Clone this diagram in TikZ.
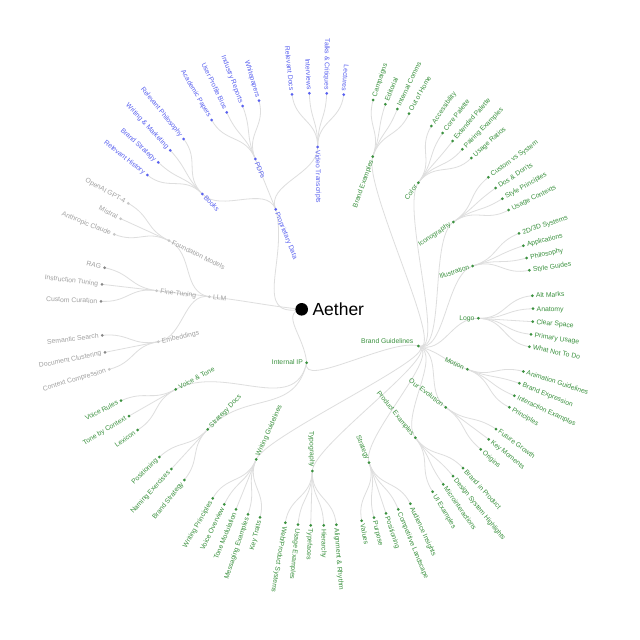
\documentclass[tikz,border=0pt]{standalone}
\usepackage{fontspec}
\setmainfont{Liberation Sans}
\usetikzlibrary{calc}
\pgfdeclarelayer{background}
\pgfsetlayers{background,main}
\definecolor{cblue}{RGB}{88,96,240}
\definecolor{cgreen}{RGB}{58,145,62}
\definecolor{cgray}{RGB}{160,160,160}
\definecolor{cgl}{RGB}{200,200,200}
\definecolor{cgd}{RGB}{135,135,135}
\definecolor{clink}{RGB}{222,222,222}
\newcommand{\mkn}[7]{%
  \node[dot,fill=#4] (#1) at (#2) {};
  \node[lab,text=#3,rotate=#6,anchor=#7] (#1-t) at (#1.center) {#5};}
\newcommand{\mylink}[2]{%
  \draw[lnkstyle] let \p1=($(#1)-(cen)$), \p2=($(#2)-(cen)$),
    \n1={veclen(\x1,\y1)}, \n2={veclen(\x2,\y2)}, \n3={(\n1+\n2)/2} in
    (#1.center) .. controls ($(cen)!\n3!(#1)$) and ($(cen)!\n3!(#2)$) .. (#2.center);}
\begin{document}
\begin{tikzpicture}[x=1pt,y=-1pt,
  dot/.style={circle,inner sep=0pt,minimum size=3pt,draw=none},
  lab/.style={font=\fontsize{6.8}{8}\selectfont,inner xsep=3.6pt,inner ysep=0pt,text height=4.35pt,text depth=0pt},
  lnkstyle/.style={draw=clink,line width=0.8pt}]
\useasboundingbox (0,0) rectangle (640,640);
\coordinate (cen) at (318,314);
% root
\node[circle,fill=black,inner sep=0pt,minimum size=12.6pt] (root) at (301.7,309.3) {};
\node[anchor=west,inner sep=0pt,font=\fontsize{17.5}{20}\selectfont] (root-t) at (312.3,309.3) {Aether};
% LLM subtree
\mkn{llm}{209.3,296.7}{cgray}{cgl}{LLM}{-6}{west}
\mkn{fm}{169,240.7}{cgray}{cgl}{Foundation Models}{-26}{west}
\mkn{ft}{156.7,290.7}{cgray}{cgl}{Fine-Tuning}{-7}{west}
\mkn{emb}{158.3,341.7}{cgray}{cgl}{Embeddings}{12}{west}
\mkn{gpt}{128.3,203.3}{cgray}{cgl}{OpenAI GPT-4}{-29}{east}
\mkn{mis}{120.7,218.7}{cgray}{cgl}{Mistral}{-27}{east}
\mkn{cla}{114.3,234.3}{cgray}{cgl}{Anthropic Claude}{-21.5}{east}
\mkn{rag}{104.7,267.7}{cgray}{cgd}{RAG}{-14}{east}
\mkn{itu}{102,284.3}{cgray}{cgd}{Instruction Tuning}{-7}{east}
\mkn{ccu}{101,301.3}{cgray}{cgd}{Custom Curation}{-2}{east}
\mkn{sse}{102.3,335.3}{cgray}{cgd}{Semantic Search}{7}{east}
\mkn{dcl}{105,352.3}{cgray}{cgd}{Document Clustering}{11.5}{east}
\mkn{cco}{109.3,369.3}{cgray}{cgl}{Context Compression}{16.5}{east}
% Proprietary Data subtree
\mkn{pd}{275.7,209.3}{cblue}{cblue}{Proprietary Data}{-68}{west}
\mkn{bk}{202.3,194}{cblue}{cblue}{Books}{-46}{west}
\mkn{pdf}{255.3,159}{cblue}{cblue}{PDFs}{-67.5}{west}
\mkn{vt}{317.7,147}{cblue}{cblue}{Video Transcripts}{-89}{west}
\mkn{rhi}{147.3,175}{cblue}{cblue}{Relevant History}{-38}{east}
\mkn{bst}{158.3,162.3}{cblue}{cblue}{Brand Strategy}{-42}{east}
\mkn{wma}{170.3,150.3}{cblue}{cblue}{Writing \& Marketing}{-47}{east}
\mkn{rph}{183.7,139}{cblue}{cblue}{Relevant Philosophy}{-51}{east}
\mkn{aca}{211.7,120}{cblue}{cblue}{Academic Papers}{-59.5}{east}
\mkn{upb}{226.7,112.3}{cblue}{cblue}{User Profile Bios}{-64.5}{east}
\mkn{ire}{242.7,106}{cblue}{cblue}{Industry Reports}{-69}{east}
\mkn{whi}{259,100.7}{cblue}{cblue}{Whitepapers}{-73.5}{east}
\mkn{rdo}{292,94.3}{cblue}{cblue}{Relevant Docs}{-84}{east}
\mkn{inv}{309.3,93.3}{cblue}{cblue}{Interviews}{-87}{east}
\mkn{tac}{326.7,93.3}{cblue}{cblue}{Talks \& Critiques}{-90.5}{east}
\mkn{lec}{343.7,94.7}{cblue}{cblue}{Lectures}{-95}{east}
% Internal IP subtree
\mkn{iip}{306.7,362.7}{cgreen}{cgreen}{Internal IP}{0}{east}
\mkn{vat}{175.7,389.3}{cgreen}{cgreen}{Voice \& Tone}{28}{west}
\mkn{sd}{207.7,429.3}{cgreen}{cgreen}{Strategy Docs}{46}{west}
\node[dot,fill=cgreen] (bg) at (418.3,346) {};
\node[lab,text=cgreen,anchor=east,inner xsep=0pt] (bg-t) at (413.5,341) {Brand Guidelines};
\mkn{vru}{121,400.7}{cgreen}{cgreen}{Voice Rules}{27}{east}
\mkn{tbc}{129,416}{cgreen}{cgreen}{Tone by Context}{31}{east}
\mkn{lex}{137.7,430}{cgreen}{cgreen}{Lexicon}{36}{east}
\mkn{spo}{159.3,457}{cgreen}{cgreen}{Positioning}{44}{east}
\mkn{nex}{171.3,469}{cgreen}{cgreen}{Naming Exercises}{47.5}{east}
\mkn{sbs}{184.3,480}{cgreen}{cgreen}{Brand Strategy}{51.5}{east}
% Brand Guidelines children
\mkn{bex}{372.7,156.7}{cgreen}{cgreen}{Brand Examples}{70.5}{east}
\mkn{col}{418.3,182.7}{cgreen}{cgreen}{Color}{53}{east}
\mkn{ico}{453.3,222}{cgreen}{cgreen}{Iconography}{33.5}{east}
\mkn{ill}{472.7,266}{cgreen}{cgreen}{Illustration}{18}{east}
\mkn{logo}{478.3,318.3}{cgreen}{cgreen}{Logo}{-1}{east}
\mkn{mot}{467.3,369.3}{cgreen}{cgreen}{Motion}{-24}{east}
\mkn{oev}{445.7,407.3}{cgreen}{cgreen}{Our Evolution}{-37}{east}
\mkn{pex}{415.3,437.7}{cgreen}{cgreen}{Product Examples}{-51}{east}
\mkn{str}{369,462.5}{cgreen}{cgreen}{Strategy}{-68}{east}
\mkn{typ}{312.3,471}{cgreen}{cgreen}{Typography}{-89}{east}
\mkn{wg}{256.2,459.3}{cgreen}{cgreen}{Writing Guidelines}{66}{west}
% leaves
\mkn{cam}{373,100}{cgreen}{cgreen}{Campaigns}{71}{west}
\mkn{edi}{385.3,104.3}{cgreen}{cgreen}{Editorial}{67}{west}
\mkn{icm}{397.3,109}{cgreen}{cgreen}{Internal Comms}{64.5}{west}
\mkn{ooh}{409,113.7}{cgreen}{cgreen}{Out of Home}{61}{west}
\mkn{acc}{431.3,126}{cgreen}{cgreen}{Accessibility}{55}{west}
\mkn{cpa}{442.7,133}{cgreen}{cgreen}{Core Palette}{52}{west}
\mkn{epa}{452.7,141}{cgreen}{cgreen}{Extended Palette}{49}{west}
\mkn{pai}{462.3,149.3}{cgreen}{cgreen}{Pairing Examples}{45.5}{west}
\mkn{ura}{471.3,158}{cgreen}{cgreen}{Usage Ratios}{41.5}{west}
\mkn{cvs}{488.3,177.3}{cgreen}{cgreen}{Custom vs System}{36}{west}
\mkn{ddo}{495.7,188}{cgreen}{cgreen}{Dos \& Don'ts}{33}{west}
\mkn{spr}{502.3,198.7}{cgreen}{cgreen}{Style Principles}{29.5}{west}
\mkn{uco}{508.7,210}{cgreen}{cgreen}{Usage Contexts}{26}{west}
\mkn{dtd}{519,233.3}{cgreen}{cgreen}{2D/3D Systems}{18}{west}
\mkn{app}{523.3,245.7}{cgreen}{cgreen}{Applications}{15}{west}
\mkn{phi}{526.7,258}{cgreen}{cgreen}{Philosophy}{12}{west}
\mkn{sgu}{529.3,270.3}{cgreen}{cgreen}{Style Guides}{8.5}{west}
\mkn{alt}{532.3,295.7}{cgreen}{cgreen}{Alt Marks}{2.5}{west}
\mkn{ana}{533,308.7}{cgreen}{cgreen}{Anatomy}{-2}{west}
\mkn{csp}{532.7,321.7}{cgreen}{cgreen}{Clear Space}{-5.5}{west}
\mkn{pus}{531,334.3}{cgreen}{cgreen}{Primary Usage}{-9}{west}
\mkn{wnt}{529.3,346.7}{cgreen}{cgreen}{What Not To Do}{-12}{west}
\mkn{agu}{523.3,371.5}{cgreen}{cgreen}{Animation Guidelines}{-18}{west}
\mkn{bexp}{519.3,383.3}{cgreen}{cgreen}{Brand Expression}{-22}{west}
\mkn{iex}{514.3,395.7}{cgreen}{cgreen}{Interaction Examples}{-25}{west}
\mkn{pri}{509.3,407.3}{cgreen}{cgreen}{Principles}{-30}{west}
\mkn{fgr}{496,429}{cgreen}{cgreen}{Future Growth}{-36}{west}
\mkn{kmo}{488.7,439.3}{cgreen}{cgreen}{Key Moments}{-39}{west}
\mkn{ori}{480.7,449.3}{cgreen}{cgreen}{Origins}{-42}{west}
\mkn{bip}{463,468}{cgreen}{cgreen}{Brand in Product}{-47.5}{west}
\mkn{dsh}{453,476}{cgreen}{cgreen}{Design System Highlights}{-51}{west}
\mkn{mic}{443.3,484.3}{cgreen}{cgreen}{Microinteractions}{-55}{west}
\mkn{uie}{432.7,491.7}{cgreen}{cgreen}{UI Examples}{-59}{west}
\mkn{ain}{410.3,503.7}{cgreen}{cgreen}{Audience Insights}{-65}{west}
\mkn{cld}{398.3,509.3}{cgreen}{cgreen}{Competitive Landscape}{-67.7}{west}
\mkn{spos}{386,513.3}{cgreen}{cgreen}{Positioning}{-71.5}{west}
\mkn{pur}{374,517.7}{cgreen}{cgreen}{Purpose}{-75.5}{west}
\mkn{val}{361.7,520.7}{cgreen}{cgreen}{Values}{-79}{west}
\mkn{arh}{336.3,524.7}{cgreen}{cgreen}{Alignment \& Rhythm}{-85.5}{west}
\mkn{hie}{323.7,525.3}{cgreen}{cgreen}{Hierarchy}{-89.5}{west}
\mkn{tfa}{310.7,525.3}{cgreen}{cgreen}{Typefaces}{-93}{west}
\mkn{uex}{298,524.7}{cgreen}{cgreen}{Usage Examples}{-96}{west}
\mkn{wps}{285.3,522.7}{cgreen}{cgreen}{Web/Product Systems}{-99.5}{west}
\mkn{ktr}{260,517.3}{cgreen}{cgreen}{Key Traits}{76}{east}
\mkn{mex}{248,514.3}{cgreen}{cgreen}{Messaging Examples}{71.5}{east}
\mkn{tmo}{236,509.3}{cgreen}{cgreen}{Tone Modulation}{68}{east}
\mkn{vov}{224.3,504.3}{cgreen}{cgreen}{Voice Overview}{64}{east}
\mkn{wpr}{212.7,498.3}{cgreen}{cgreen}{Writing Principles}{60}{east}
% connectors
\begin{pgfonlayer}{background}
\fill[white] (0,0) rectangle (640,640);
\draw[lnkstyle] (root.center) .. controls (268,306) and (242,300) .. (llm.center);
\draw[lnkstyle] (root.center) .. controls (250.7,318.3) and (288.7,259.2) .. (pd.center);
\draw[lnkstyle] (root.center) .. controls (280,313.5) and (304.2,336) .. (iip.center);
\foreach \c in {fm,ft,emb} {\mylink{llm}{\c}}
\foreach \c in {gpt,mis,cla} {\mylink{fm}{\c}}
\foreach \c in {rag,itu,ccu} {\mylink{ft}{\c}}
\foreach \c in {sse,dcl,cco} {\mylink{emb}{\c}}
\foreach \c in {bk,pdf,vt} {\mylink{pd}{\c}}
\foreach \c in {rhi,bst,wma,rph} {\mylink{bk}{\c}}
\foreach \c in {aca,upb,ire,whi} {\mylink{pdf}{\c}}
\foreach \c in {rdo,inv,tac,lec} {\mylink{vt}{\c}}
\foreach \c in {bg,vat,sd} {\mylink{iip}{\c}}
\foreach \c in {vru,tbc,lex} {\mylink{vat}{\c}}
\foreach \c in {spo,nex,sbs} {\mylink{sd}{\c}}
\foreach \c in {bex,col,ico,ill,logo,mot,oev,pex,str,typ,wg} {\mylink{bg}{\c}}
\foreach \c in {cam,edi,icm,ooh} {\mylink{bex}{\c}}
\foreach \c in {acc,cpa,epa,pai,ura} {\mylink{col}{\c}}
\foreach \c in {cvs,ddo,spr,uco} {\mylink{ico}{\c}}
\foreach \c in {dtd,app,phi,sgu} {\mylink{ill}{\c}}
\foreach \c in {alt,ana,csp,pus,wnt} {\mylink{logo}{\c}}
\foreach \c in {agu,bexp,iex,pri} {\mylink{mot}{\c}}
\foreach \c in {fgr,kmo,ori} {\mylink{oev}{\c}}
\foreach \c in {bip,dsh,mic,uie} {\mylink{pex}{\c}}
\foreach \c in {ain,cld,spos,pur,val} {\mylink{str}{\c}}
\foreach \c in {arh,hie,tfa,uex,wps} {\mylink{typ}{\c}}
\foreach \c in {ktr,mex,tmo,vov,wpr} {\mylink{wg}{\c}}
\end{pgfonlayer}
\end{tikzpicture}
\end{document}
